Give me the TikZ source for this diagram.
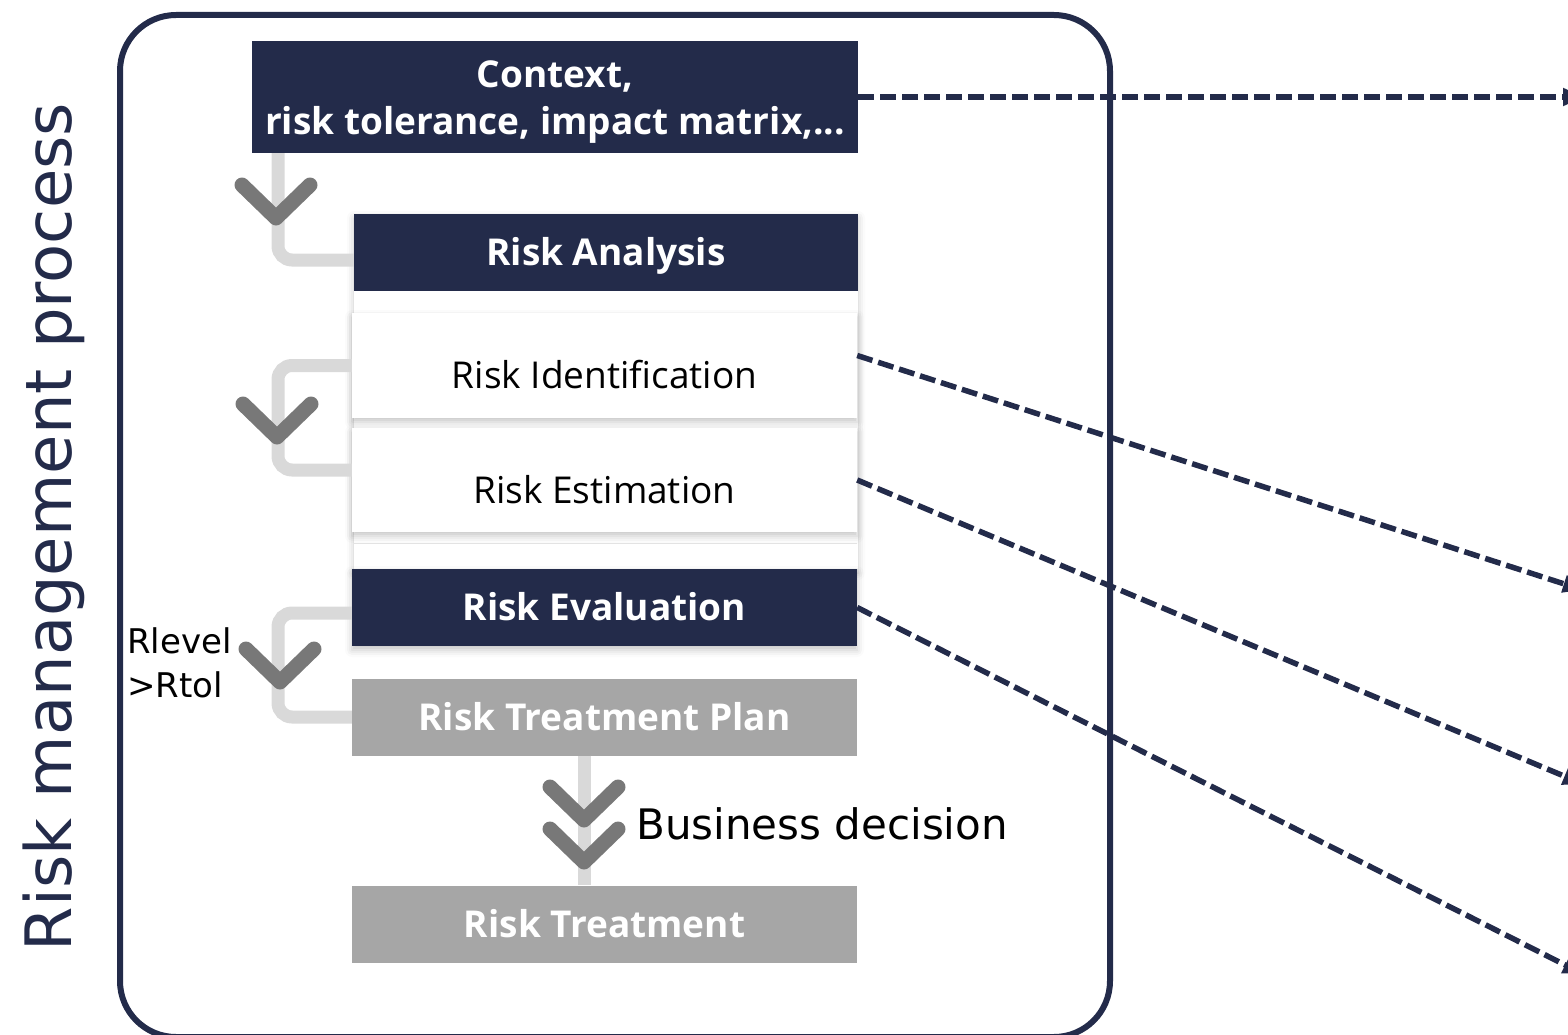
\documentclass[tikz,border=0pt]{standalone}
\usepackage{fontspec}
\usetikzlibrary{arrows.meta,shadows.blur}
\newfontfamily\boxfont{Open Sans}
\newfontfamily\notefont{DejaVu Sans}
\definecolor{riskblue}{RGB}{35,43,74}
\definecolor{railgrey}{RGB}{217,217,217}
\definecolor{chevgrey}{RGB}{120,120,120}
\definecolor{stepgrey}{RGB}{166,166,166}
\tikzset{
	boxbase/.style={fill=riskblue, text=white, inner sep=0pt, minimum width=505pt, minimum height=77pt, font=\boxfont\bfseries\fontsize{37}{47}\selectfont},
	headbox/.style={boxbase, text height=30pt, text depth=3.6pt},
	planbox/.style={headbox, fill=stepgrey},
	subbox/.style={fill=white, inner sep=0pt, minimum width=505pt, minimum height=105pt, text height=50pt, text depth=3.6pt, font=\boxfont\fontsize{37}{47}\selectfont},
	softshadow/.style={blur shadow={shadow xshift=0pt, shadow yshift=-4pt, shadow blur radius=7pt, shadow opacity=22}},
	rail/.style={draw=railgrey, line width=13pt, rounded corners=14pt},
	chev/.style={draw=chevgrey, line width=15pt, line cap=round, line join=round},
	chevron/.pic={\draw[chev] (-34,-33) -- (0,0) -- (34,-33);},
	toright/.style={draw=riskblue, line width=5.5pt, dash pattern=on 16pt off 6pt, -{Triangle[length=20pt,width=17pt]}}
}
\begin{document}
\begin{tikzpicture}[x=1pt, y=-1pt]
			\useasboundingbox (0,0) rectangle (1568,1035);
			\draw[riskblue, line width=6pt, rounded corners=56pt] (120,15) rectangle (1110,1037);
			\node[rotate=90, anchor=base, inner sep=0pt, text=riskblue, font=\notefont\fontsize{64}{64}\selectfont] (title) at (71,527) {Risk management process};
			\path[fill=white, softshadow] (354,214) rectangle (858,569);
			\node[boxbase, minimum width=606pt, minimum height=112pt] (ctx) at (555,97) {\raisebox{-5pt}[\height][\depth]{\begin{tabular}{@{}c@{}}Context,\\risk tolerance, impact matrix,...\end{tabular}}};
			\node[headbox, minimum width=504pt] (ana) at (606,252) {Risk Analysis};
			\node[subbox, softshadow] (ident) at (604.5,365.5) {Risk Identification};
			\node[subbox, softshadow, minimum height=104pt] (estim) at (604.5,480) {Risk Estimation};
			\node[headbox, softshadow] (eval) at (604.5,607.5) {Risk Evaluation};
			\node[planbox] (plan) at (604.5,717) {Risk Treatment Plan};
			\node[planbox] (treat) at (604.5,924) {Risk Treatment};
			\coordinate (rail) at (278,0);
			\coordinate (estimin) at ([yshift=10pt]estim.west);
			\coordinate (evalout) at ([yshift=-5.5pt]eval.west);
			\draw[rail] (ctx.south -| rail) |- ([yshift=-8pt]ana.west);
			\draw[rail] (ident.west) -| (rail |- estimin) -- (estimin);
			\draw[rail] (evalout) -| (rail |- plan.west) -- (plan.west);
			\draw[rail] ([xshift=-20pt]plan.south) -- ([xshift=-20pt]treat.north);
			\pic at (276,218) {chevron};
			\pic at (277,437) {chevron};
			\pic at (280,682) {chevron};
			\foreach \y in {820,862}
				\pic at (584,\y) {chevron};
			\node[anchor=west, align=left, inner sep=0pt, font=\notefont\fontsize{34}{44}\selectfont] (rlevel) at (127,663) {Rlevel\\>Rtol};
			\node[anchor=west, inner sep=0pt, font=\notefont\fontsize{42}{50}\selectfont] (decision) at (636,824) {Business decision};
			\coordinate (endA) at (1583,97);
			\coordinate (endB) at (1583,590);
			\coordinate (endC) at (1583,784);
			\coordinate (endD) at (1583,974);
			\draw[toright] (ctx.east) -- (endA);
			\draw[toright] ([yshift=10pt]ident.east) -- (endB);
			\draw[toright] (estim.east) -- (endC);
			\draw[toright] (eval.east) -- (endD);
		\end{tikzpicture}
\end{document}
